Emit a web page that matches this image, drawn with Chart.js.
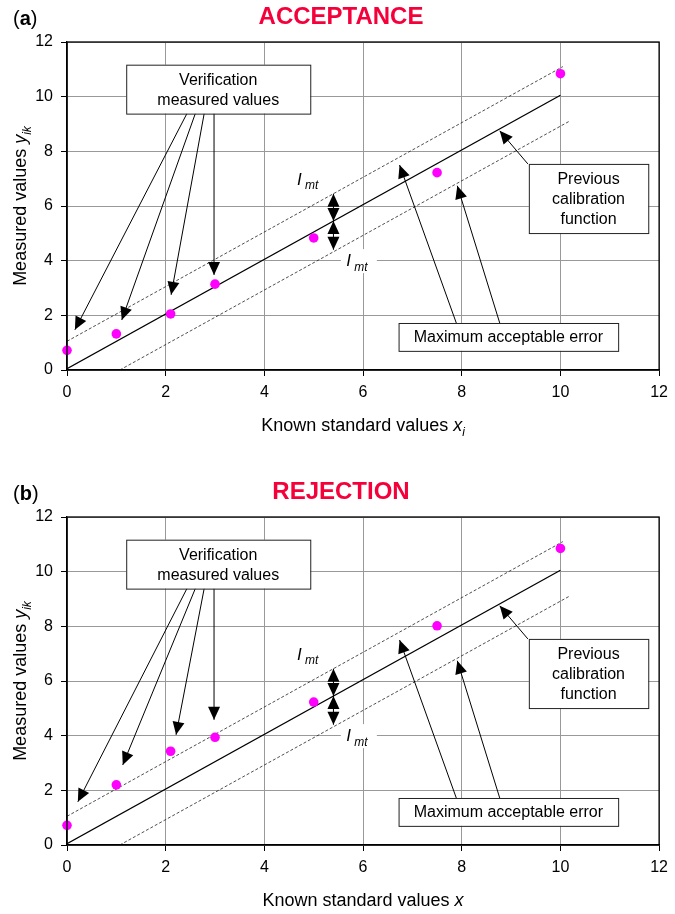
<!DOCTYPE html>
<html>
<head>
<meta charset="utf-8">
<script src="https://cdn.jsdelivr.net/npm/chart.js@4.4.1/dist/chart.umd.min.js"></script>
<style>
  body { margin: 0; background: #fff; overflow: hidden; }
  .panel { position: absolute; left: 0; width: 675px; }
</style>
</head>
<body>
<div class="panel" style="top:0;height:475px"><canvas id="chartA"></canvas></div>
<div class="panel" style="top:475px;height:439px"><canvas id="chartB"></canvas></div>
<script>
// known standard values and measured values
const stdX = [0, 1, 2.1, 3, 5, 7.5, 10];
const acceptY = [0.72, 1.32, 2.05, 3.14, 4.83, 7.22, 10.84];
const rejectY = [0.72, 2.2, 3.43, 3.94, 5.23, 8.02, 10.85];

// previous calibration function and the +/- error limits
const calibX = [0, 10];
const calibY = [0.05, 10.05];
const upperX = [0, 10.05];
const upperY = [1.05, 11.1];
const lowerX = [1.07, 10.2];
const lowerY = [0, 9.12];

const xTicks = [0, 2, 4, 6, 8, 10, 12];
const yTicks = [0, 2, 4, 6, 8, 10, 12];

// annotation arrow tips (data coords)
const acceptTips = [[0.16, 1.47], [1.11, 1.83], [2.11, 2.75], [2.98, 3.48]];
const rejectTips = [[0.22, 1.58], [1.13, 2.93], [2.21, 4.03], [2.98, 4.58]];
const verifStarts = [2.43, 2.6, 2.78, 2.98];

const FONT = "'Liberation Sans', Arial, sans-serif";

function pts(xs, ys) {
  return xs.map((x, i) => ({ x: x, y: ys[i] }));
}

function arrowHead(ctx, x1, y1, x2, y2, len, w) {
  let a = Math.atan2(y2 - y1, x2 - x1);
  ctx.beginPath();
  ctx.moveTo(x2, y2);
  ctx.lineTo(x2 - len * Math.cos(a) + w * Math.sin(a), y2 - len * Math.sin(a) - w * Math.cos(a));
  ctx.lineTo(x2 - len * Math.cos(a) - w * Math.sin(a), y2 - len * Math.sin(a) + w * Math.cos(a));
  ctx.closePath();
  ctx.fill();
}

function arrow(ctx, x1, y1, x2, y2, both) {
  ctx.strokeStyle = "#000";
  ctx.fillStyle = "#000";
  ctx.lineWidth = 1;
  ctx.beginPath();
  ctx.moveTo(x1, y1);
  ctx.lineTo(x2, y2);
  ctx.stroke();
  arrowHead(ctx, x1, y1, x2, y2, 13, 6);
  if (both) arrowHead(ctx, x2, y2, x1, y1, 13, 6);
}

// draws text parts: {t, it, sub}
function richText(ctx, parts, x, y, size, align) {
  let subSize = Math.round(size * 0.68);
  let widths = parts.map(p => {
    ctx.font = (p.it ? "italic " : "") + (p.sub ? subSize : size) + "px " + FONT;
    return ctx.measureText(p.t).width;
  });
  let total = widths.reduce((a, b) => a + b, 0);
  let cx = align === "center" ? x - total / 2 : x;
  ctx.textAlign = "left";
  ctx.textBaseline = "alphabetic";
  parts.forEach((p, i) => {
    ctx.font = (p.it ? "italic " : "") + (p.sub ? subSize : size) + "px " + FONT;
    ctx.fillText(p.t, cx, y + (p.sub ? size * 0.28 : 0));
    cx += widths[i];
  });
  return total;
}

function textBox(ctx, sx, sy, x1, x2, y1, y2, lines) {
  let l = sx.getPixelForValue(x1), r = sx.getPixelForValue(x2);
  let t = sy.getPixelForValue(y2), b = sy.getPixelForValue(y1);
  ctx.fillStyle = "#fff";
  ctx.fillRect(l, t, r - l, b - t);
  ctx.strokeStyle = "#222";
  ctx.lineWidth = 1;
  ctx.strokeRect(l + 0.5, t + 0.5, r - l, b - t);
  ctx.fillStyle = "#000";
  ctx.font = "16px " + FONT;
  ctx.textAlign = "center";
  ctx.textBaseline = "middle";
  let lh = 20;
  let cy = (t + b) / 2 - (lines.length - 1) * lh / 2;
  lines.forEach((s, i) => ctx.fillText(s, (l + r) / 2, cy + i * lh + 1));
}

function makeChart(id, letter, title, measured, tips, xSub) {
  const decor = {
    id: "decor",
    afterDatasetsDraw(chart) {
      const ctx = chart.ctx;
      const sx = chart.scales.x, sy = chart.scales.y;
      const area = chart.chartArea;
      const px = v => sx.getPixelForValue(v);
      const py = v => sy.getPixelForValue(v);
      ctx.save();

      // plot frame
      ctx.strokeStyle = "#000";
      ctx.lineWidth = 1.3;
      ctx.strokeRect(area.left, area.top, area.right - area.left, area.bottom - area.top);

      // verification box and arrows
      verifStarts.forEach((x0, i) => {
        arrow(ctx, px(x0), py(9.38), px(tips[i][0]), py(tips[i][1]));
      });
      textBox(ctx, sx, sy, 1.2, 4.93, 9.38, 11.17, ["Verification", "measured values"]);

      // previous calibration function
      arrow(ctx, px(9.34), py(7.54), px(8.77), py(8.75));
      textBox(ctx, sx, sy, 9.36, 11.78, 5.01, 7.54, ["Previous", "calibration", "function"]);

      // maximum acceptable error
      arrow(ctx, px(7.89), py(1.72), px(6.74), py(7.5));
      arrow(ctx, px(8.77), py(1.72), px(7.91), py(6.74));
      textBox(ctx, sx, sy, 6.72, 11.17, 0.7, 1.72, ["Maximum acceptable error"]);

      // I_mt double arrows
      arrow(ctx, px(5.4), py(6.45), px(5.4), py(5.45), true);
      arrow(ctx, px(5.4), py(5.45), px(5.4), py(4.4), true);
      ctx.fillStyle = "#000";
      richText(ctx, [{ t: "I", it: true }, { t: " mt", it: true, sub: true }], px(4.66), py(7.0) + 6, 17, "left");
      ctx.fillStyle = "#fff";
      ctx.fillRect(px(5.55), py(4.02) - 11, 36, 24);
      ctx.fillStyle = "#000";
      richText(ctx, [{ t: "I", it: true }, { t: " mt", it: true, sub: true }], px(5.66), py(4.02) + 6, 17, "left");

      // panel letter and title
      ctx.textBaseline = "alphabetic";
      ctx.textAlign = "left";
      ctx.font = "20px " + FONT;
      ctx.fillText("(", 13, 25);
      let w1 = ctx.measureText("(").width;
      ctx.font = "bold 20px " + FONT;
      ctx.fillText(letter, 13 + w1, 25);
      let w2 = ctx.measureText(letter).width;
      ctx.font = "20px " + FONT;
      ctx.fillText(")", 13 + w1 + w2, 25);

      ctx.fillStyle = "#f5003a";
      ctx.font = "bold 24px " + FONT;
      ctx.textAlign = "center";
      ctx.fillText(title, 341, 24);

      // axis titles
      ctx.fillStyle = "#000";
      let xParts = [{ t: "Known standard values " }, { t: "x", it: true }];
      if (xSub) xParts.push({ t: xSub, it: true, sub: true });
      richText(ctx, xParts, (area.left + area.right) / 2, area.bottom + 61, 18, "center");

      ctx.translate(26, (area.top + area.bottom) / 2);
      ctx.rotate(-Math.PI / 2);
      richText(ctx, [{ t: "Measured values " }, { t: "y", it: true }, { t: "ik", it: true, sub: true }], 0, 0, 18, "center");
      ctx.restore();
    }
  };

  return new Chart(document.getElementById(id), {
    type: "scatter",
    data: {
      datasets: [
        {
          label: "Verification measured values",
          data: pts(stdX, measured),
          backgroundColor: "#ff00ff",
          borderWidth: 0,
          pointRadius: 4.8,
          showLine: false,
          clip: false
        },
        {
          label: "Previous calibration function",
          data: pts(calibX, calibY),
          showLine: true,
          borderColor: "#000",
          borderWidth: 1.3,
          pointRadius: 0
        },
        {
          label: "Upper limit",
          data: pts(upperX, upperY),
          showLine: true,
          borderColor: "#222",
          borderWidth: 0.8,
          borderDash: [3, 2],
          pointRadius: 0
        },
        {
          label: "Lower limit",
          data: pts(lowerX, lowerY),
          showLine: true,
          borderColor: "#222",
          borderWidth: 0.8,
          borderDash: [3, 2],
          pointRadius: 0
        }
      ]
    },
    options: {
      responsive: true,
      maintainAspectRatio: false,
      animation: false,
      events: [],
      layout: { padding: { top: 42, right: 12, left: 0, bottom: 0 } },
      plugins: {
        legend: { display: false },
        tooltip: { enabled: false }
      },
      scales: {
        x: {
          type: "linear",
          min: 0,
          max: 12,
          afterBuildTicks: s => { s.ticks = xTicks.map(v => ({ value: v })); },
          afterFit: s => { s.height = s.chart.height - 370; },
          ticks: { color: "#000", padding: 7, maxRotation: 0, font: { family: FONT, size: 16 } },
          grid: { color: "#999", lineWidth: 1, tickColor: "#000", tickLength: 6 },
          border: { color: "#000", width: 1.3 }
        },
        y: {
          type: "linear",
          min: 0,
          max: 12,
          afterBuildTicks: s => { s.ticks = yTicks.map(v => ({ value: v })); },
          afterFit: s => { s.width = 67; },
          ticks: { color: "#000", padding: 8, font: { family: FONT, size: 16 } },
          grid: { color: "#999", lineWidth: 1, tickColor: "#000", tickLength: 6 },
          border: { color: "#000", width: 1.3 }
        }
      }
    },
    plugins: [decor]
  });
}

makeChart("chartA", "a", "ACCEPTANCE", acceptY, acceptTips, "i");
makeChart("chartB", "b", "REJECTION", rejectY, rejectTips, "");
</script>
</body>
</html>
